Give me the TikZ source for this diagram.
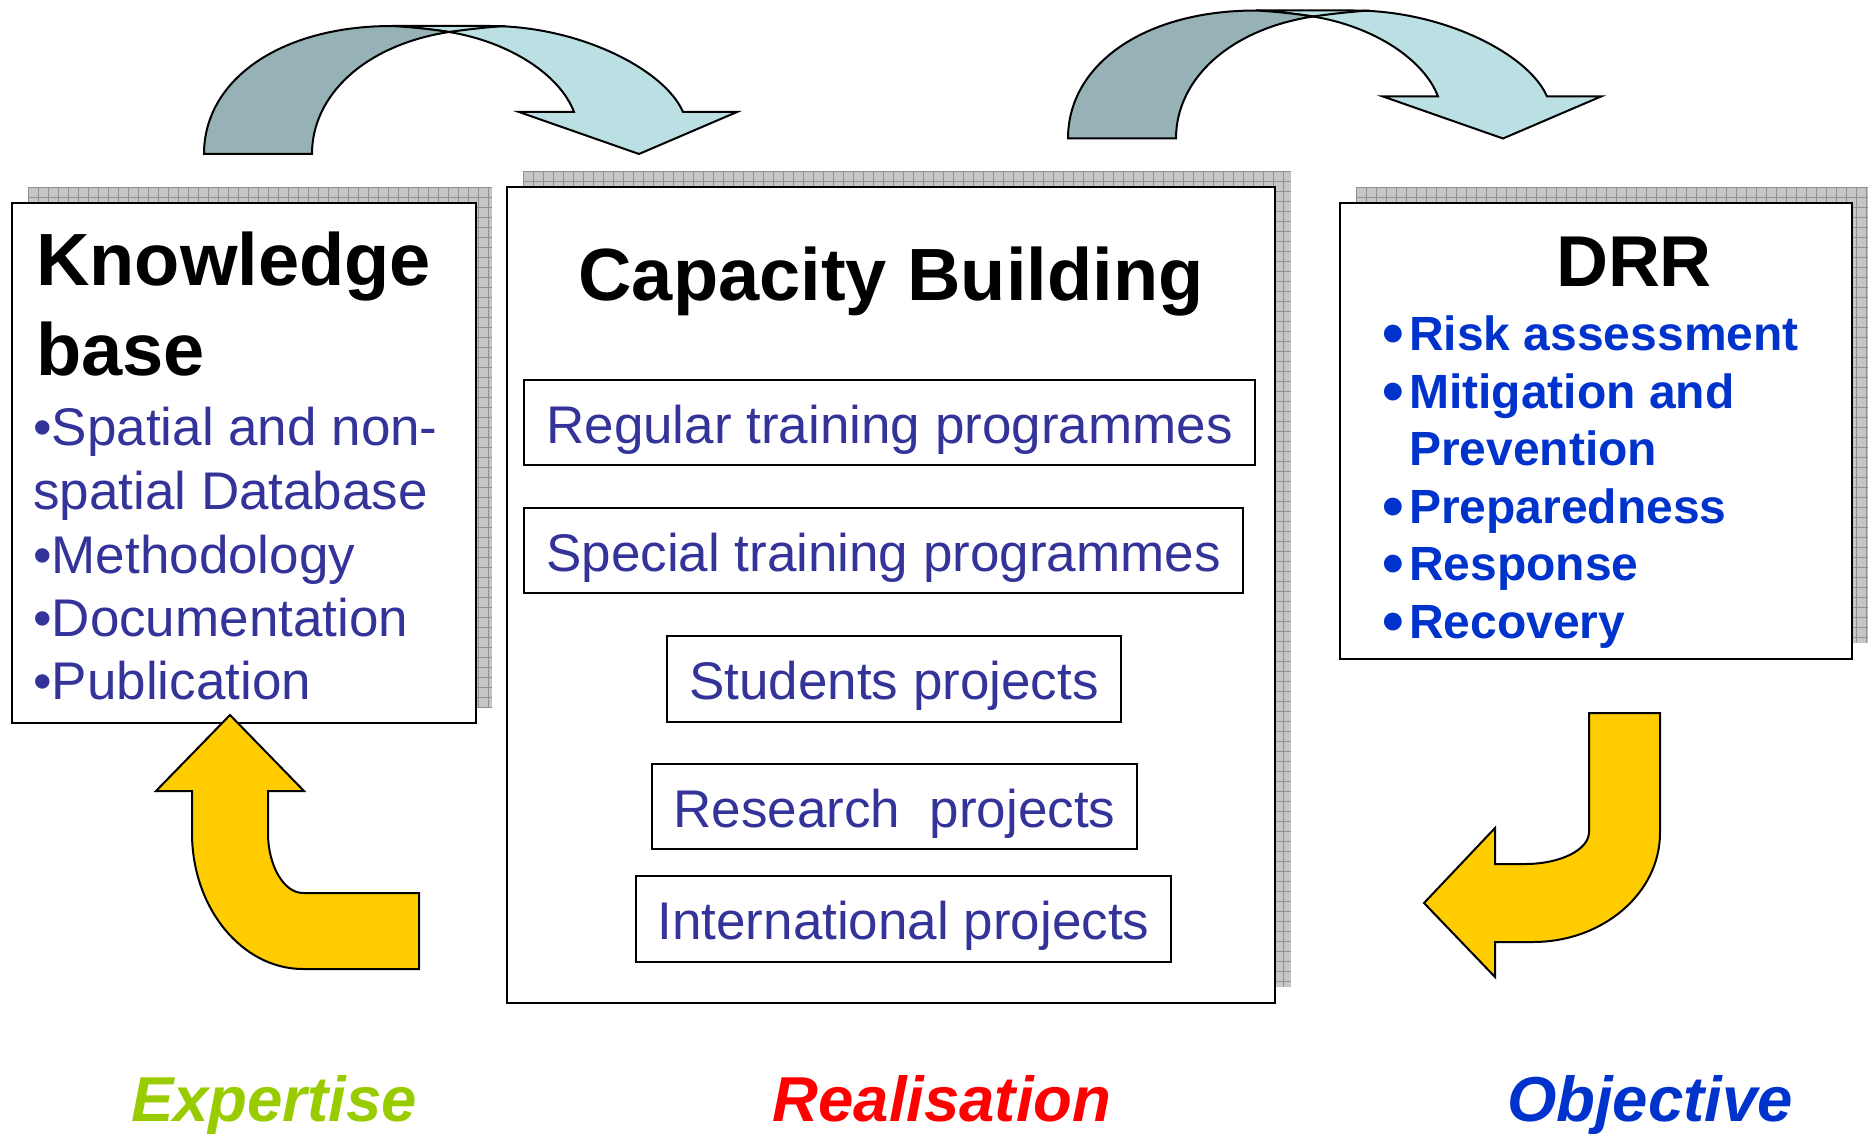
\documentclass[tikz,border=0pt]{standalone}
\usepackage{fontspec}
\setmainfont{Liberation Sans}
\usetikzlibrary{calc}
\definecolor{kbblue}{HTML}{333399}
\definecolor{drrblue}{HTML}{0033CC}
\definecolor{arrdark}{RGB}{150,178,182}
\definecolor{arrlight}{RGB}{186,224,228}
\definecolor{yel}{HTML}{FFCC00}
\definecolor{expgreen}{HTML}{99CC00}
\definecolor{shfill}{RGB}{198,198,198}
\definecolor{shline}{RGB}{145,145,145}
\newcommand{\drawcurvearrow}{%
  \filldraw[arrline, fill=arrlight] (392,26) -- (490,26) .. controls (580,26) and (665,70) .. (683,112)
     -- (737,112) -- (639,154) -- (519,112) -- (574,112)
     .. controls (560,75) and (510,42) .. (449,32)
     .. controls (430,29) and (410,27) .. (392,26) -- cycle;
  \filldraw[arrline, fill=arrdark] (204,154) .. controls (204,80) and (280,26) .. (392,26)
     .. controls (410,27) and (430,29) .. (449,32)
     .. controls (365,45) and (312,95) .. (312,154) -- cycle;
  \draw[arrline] (449,32) .. controls (470,29) and (490,27) .. (505,26);
}
\begin{document}
\begin{tikzpicture}[x=1pt,y=-1pt,
  arrline/.style={draw=black, line width=2pt, line join=miter},
  mainbox/.style={draw=black, fill=white, line width=2.2pt, inner sep=0pt},
  subbox/.style={draw=black, fill=white, line width=2pt, inner sep=0pt, text=kbblue,
     text height=41pt, text depth=0pt, font={\fontsize{53pt}{64pt}\selectfont}},
  gridl/.style={shline, line width=0.8pt},
  yarrow/.style={draw=black, fill=yel, line width=2pt, line join=miter},
  ttl/.style={inner sep=0pt, text=black, font={\fontsize{74pt}{89pt}\selectfont\bfseries}},
  kbitem/.style={inner sep=0pt, anchor=base west, text=kbblue, font={\fontsize{53pt}{64pt}\selectfont}},
  drritem/.style={inner sep=0pt, anchor=base west, text=drrblue, font={\fontsize{48pt}{58pt}\selectfont\bfseries}},
  drrbullet/.style={inner sep=0pt, anchor=base west, text=drrblue, font={\fontsize{62pt}{70pt}\selectfont\bfseries}},
  bottomlbl/.style={inner sep=0pt, anchor=base, font={\fontsize{63.5pt}{76pt}\selectfont\bfseries\itshape}}
]
\useasboundingbox (0,0) rectangle (1872,1134);
\fill[white] (0,0) rectangle (1872,1134);

% top curved arrows
\begin{scope}
  \drawcurvearrow
\end{scope}
\begin{scope}[shift={(864,-15.5)}]
  \drawcurvearrow
\end{scope}

% shadows
\fill[shfill] (28,187) rectangle (492,707);
\foreach \gx in {28,38,...,492} \draw[gridl] (\gx,187) -- (\gx,707);
\foreach \gy in {187,197,...,707} \draw[gridl] (28,\gy) -- (492,\gy);

\fill[shfill] (523,171) rectangle (1291,987);
\foreach \gx in {523,533,...,1291} \draw[gridl] (\gx,171) -- (\gx,987);
\foreach \gy in {171,181,...,987} \draw[gridl] (523,\gy) -- (1291,\gy);

\fill[shfill] (1356,187) rectangle (1868,643);
\foreach \gx in {1356,1366,...,1868} \draw[gridl] (\gx,187) -- (\gx,643);
\foreach \gy in {187,197,...,643} \draw[gridl] (1356,\gy) -- (1868,\gy);

% main boxes
\node[mainbox, minimum width=464pt, minimum height=520pt] (kb) at (244,463) {};
\node[mainbox, minimum width=768pt, minimum height=816pt] (cap) at (891,595) {};
\node[mainbox, minimum width=512pt, minimum height=456pt] (drr) at (1596,431) {};

% knowledge base text
\node[ttl, anchor=base west] (kbt1) at (36,286) {Knowledge};
\node[ttl, anchor=base west] (kbt2) at (36,375) {base};
\node[kbitem] (kb1) at (33,445) {•Spatial and non-};
\node[kbitem] (kb2) at (33,509) {spatial Database};
\node[kbitem] (kb3) at (33,573) {•Methodology};
\node[kbitem] (kb4) at (33,636) {•Documentation};
\node[kbitem] (kb5) at (33,699) {•Publication};

% capacity building
\node[ttl, anchor=base] (capt) at (891,301) {Capacity Building};
\node[subbox, minimum width=731pt, minimum height=85pt] (reg) at (889.5,422.5) {Regular training programmes};
\node[subbox, minimum width=719pt, minimum height=85pt] (spec) at (883.5,550.5) {Special training programmes};
\node[subbox, minimum width=454pt, minimum height=86pt] (stud) at (894,679) {Students projects};
\node[subbox, minimum width=485pt, minimum height=85pt] (res) at (894.5,806.5) {Research~~projects};
\node[subbox, minimum width=535pt, minimum height=86pt] (intl) at (903.5,919) {International projects};

% DRR
\node[ttl, anchor=base, font={\fontsize{72pt}{86pt}\selectfont\bfseries}] (drrt) at (1634,287) {DRR};
\node[drrbullet] (b1) at (1382,354) {•};
\node[drritem] (d1) at (1409,350) {Risk assessment};
\node[drrbullet] (b2) at (1382,412) {•};
\node[drritem] (d2) at (1409,408) {Mitigation and};
\node[drritem] (d2b) at (1409,465) {Prevention};
\node[drrbullet] (b3) at (1382,527) {•};
\node[drritem] (d3) at (1409,523) {Preparedness};
\node[drrbullet] (b4) at (1382,584) {•};
\node[drritem] (d4) at (1409,580) {Response};
\node[drrbullet] (b5) at (1382,642) {•};
\node[drritem] (d5) at (1409,638) {Recovery};

% yellow arrows
\filldraw[yarrow] (230,715) -- (304,791) -- (268,791) -- (268,833)
   .. controls (268,866) and (284,893) .. (303,893) -- (419,893) -- (419,969) -- (303,969)
   .. controls (242,969) and (192,908) .. (192,833) -- (192,791) -- (156,791) -- cycle;
\filldraw[yarrow] (1589,713) -- (1660,713) -- (1660,833)
   .. controls (1660,893) and (1603,942) .. (1533,942) -- (1495,942) -- (1495,977)
   -- (1424,903) -- (1495,828) -- (1495,864) -- (1525,864)
   .. controls (1560,864) and (1589,850) .. (1589,832) -- cycle;

% bottom labels
\node[bottomlbl, text=expgreen] (lexp) at (274,1121) {Expertise};
\node[bottomlbl, text=red] (lreal) at (942,1121) {Realisation};
\node[bottomlbl, text=drrblue] (lobj) at (1650,1121) {Objective};
\end{tikzpicture}
\end{document}
